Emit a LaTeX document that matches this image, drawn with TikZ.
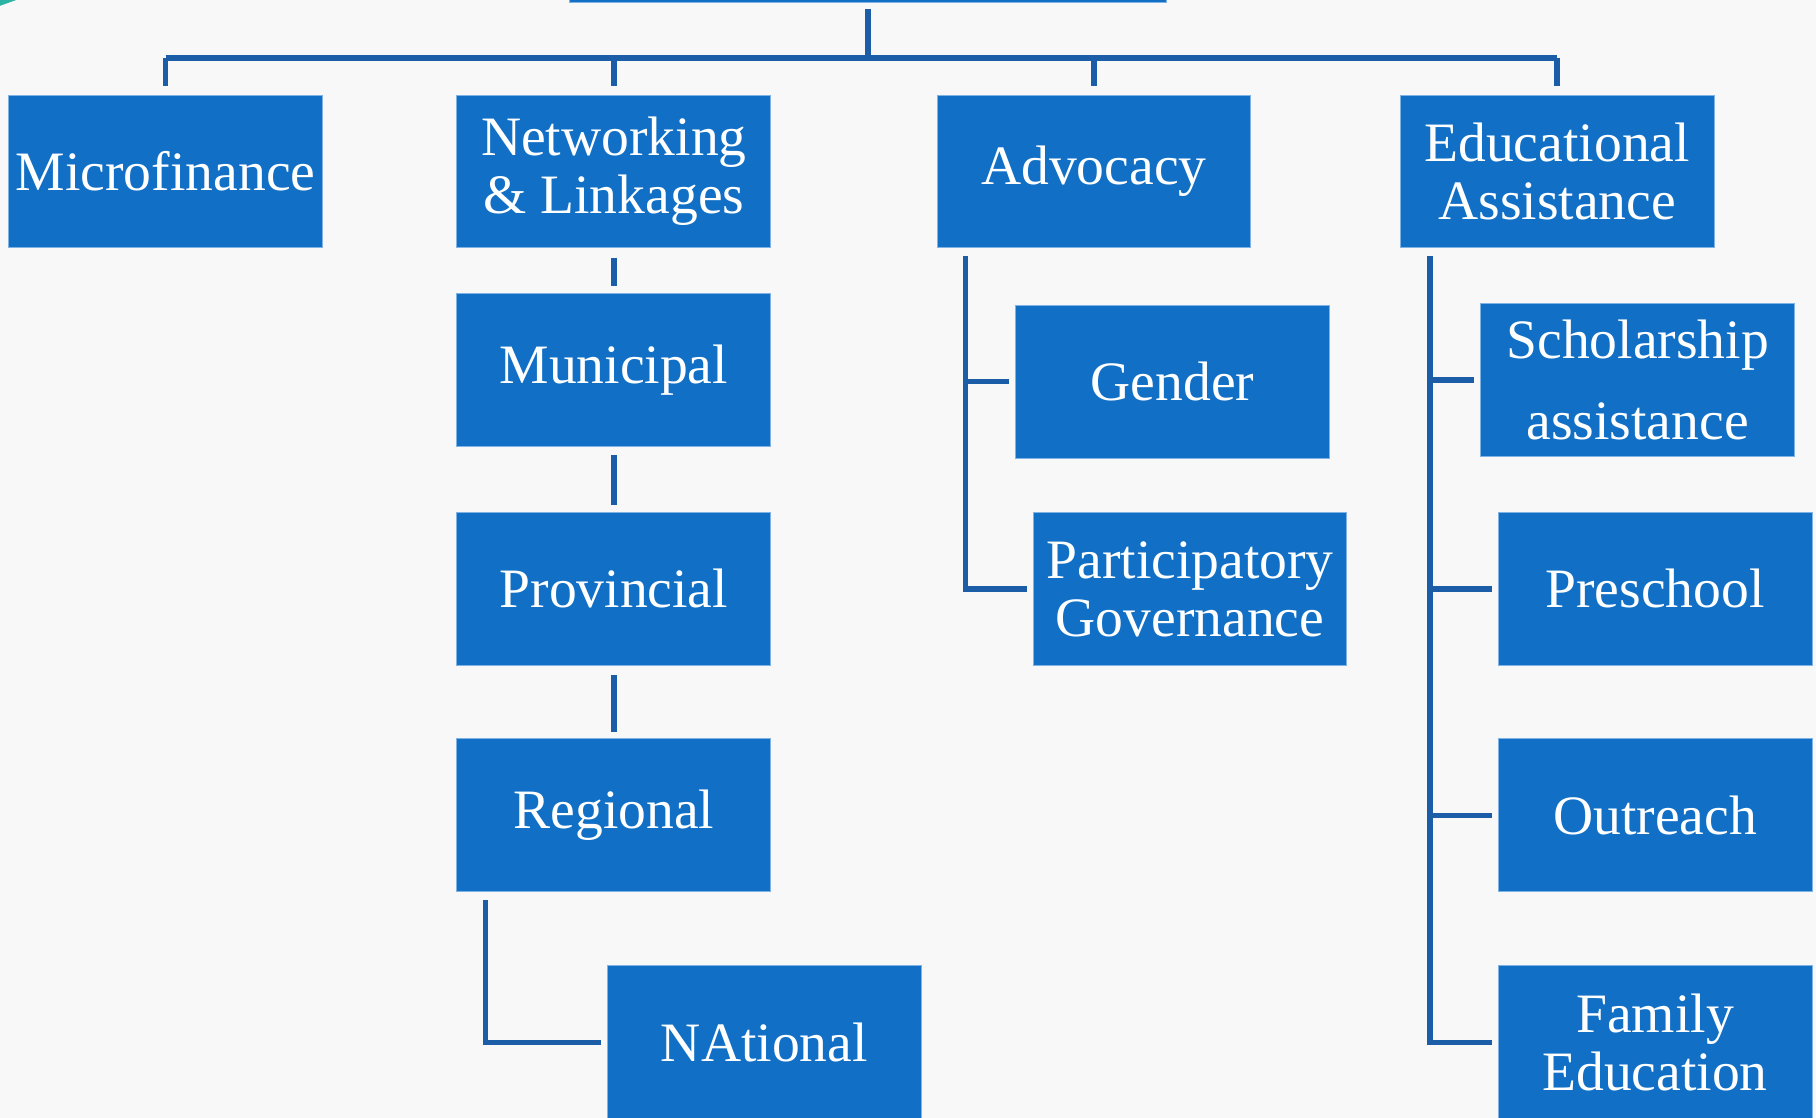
\documentclass[tikz,border=0pt]{standalone}
\usepackage{fontspec}
\setmainfont{Liberation Serif}
\definecolor{boxblue}{HTML}{1170C6}
\definecolor{linkblue}{HTML}{1B5EA7}
\definecolor{boxedge}{HTML}{7FB2E5}
\definecolor{paper}{HTML}{F8F8F8}
\definecolor{cornerteal}{HTML}{2DB3A3}
\tikzstyle{unitbox} = [fill=boxblue, draw=boxedge, line width=0.4pt, text=white,
    rectangle, inner sep=0pt, minimum width=135.5pt, minimum height=66pt,
    align=center, font=\fontsize{24}{25}\selectfont]
\tikzstyle{link} = [draw=linkblue, line width=2.4pt]

\begin{document}
\begin{tikzpicture}[x=0.5pt, y=-0.5pt]
    \fill[paper] (0,0) rectangle (1568,965);
    \useasboundingbox (0,0) rectangle (1568,965);
    \clip (0,0) rectangle (1568,965);
    \fill[cornerteal] (0,0) -- (14,0) -- (0,5) -- cycle;
    % top level
    \node[unitbox, minimum width=257.5pt] (root) at (749.5,-64) {};
    \node[unitbox] (micro) at (143,148) {Microfinance};
    \node[unitbox] (network) at (530,148) {Networking\\\& Linkages};
    \node[unitbox] (advocacy) at (944.5,148) {Advocacy};
    \node[unitbox] (edu) at (1344.5,148) {Educational\\Assistance};
    % networking levels
    \node[unitbox] (municipal) at (530,319.5) {Municipal};
    \node[unitbox] (provincial) at (530,508.5) {Provincial};
    \node[unitbox] (regional) at (530,704) {Regional};
    \node[unitbox] (national) at (660,900) {NAtional};
    % advocacy
    \node[unitbox] (gender) at (1012.5,329.5) {Gender};
    \node[unitbox] (particip) at (1027.5,508.5) {Participatory\\Governance};
    % education
    \node[unitbox, font=\fontsize{24}{35}\selectfont] (scholar) at (1414,328) {Scholarship\\assistance};
    \node[unitbox] (preschool) at (1429,508.5) {Preschool};
    \node[unitbox] (outreach) at (1429,704) {Outreach};
    \node[unitbox] (family) at (1429,900) {Family\\Education};

    % connectors
    \coordinate (hub) at (749.5,50);
    \draw[link, shorten <=2.5pt] (root.south) -- (hub);
    \draw[link] (micro.north |- hub) -- (edu.north |- hub);
    \foreach \n in {micro,network,advocacy,edu}
        \draw[link, shorten >=3.5pt] (\n.north |- hub) -- (\n.north);
    \draw[link, shorten <=4pt, shorten >=3pt] (network.south) -- (municipal.north);
    \draw[link, shorten <=3.5pt, shorten >=3pt] (municipal.south) -- (provincial.north);
    \draw[link, shorten <=4pt, shorten >=3pt] (provincial.south) -- (regional.north);
    \draw[link] ([xshift=12.5pt, yshift=-3.5pt]regional.south west) |- ([xshift=-2.5pt]national.west);

    \coordinate (advtrunk) at ([xshift=12.5pt, yshift=-3.5pt]advocacy.south west);
    \draw[link] (advtrunk) |- ([xshift=-2.5pt]particip.west);
    \draw[link] (advtrunk |- gender.west) -- ([xshift=-2.5pt]gender.west);

    \coordinate (edutrunk) at ([xshift=13pt, yshift=-3.5pt]edu.south west);
    \draw[link] (edutrunk) |- ([xshift=-2.5pt]family.west);
    \foreach \n in {scholar,preschool,outreach}
        \draw[link] (edutrunk |- \n.west) -- ([xshift=-2.5pt]\n.west);
\end{tikzpicture}
\end{document}
